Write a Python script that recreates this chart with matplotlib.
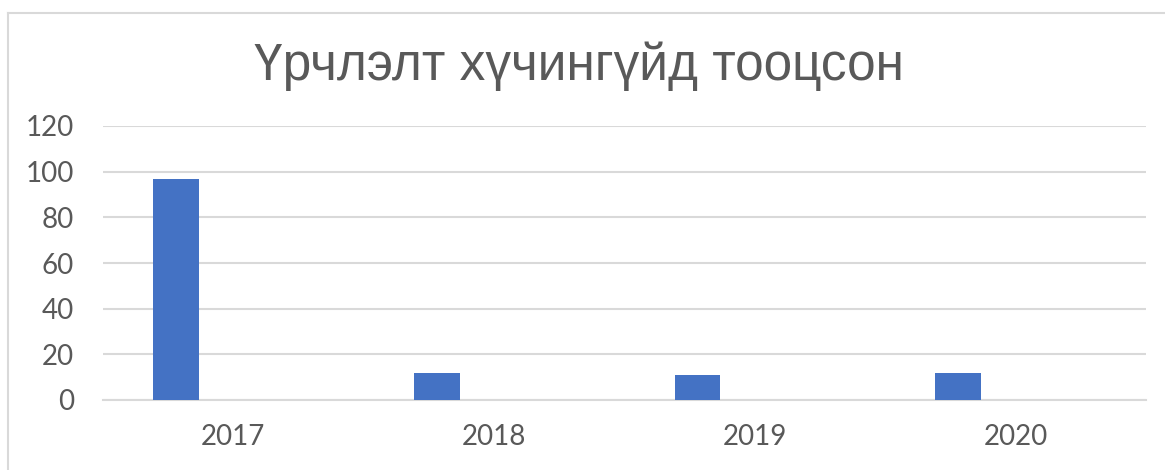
# Excel-style column chart: Үрчлэлт хүчингүйд тооцсон
import matplotlib.pyplot as plt
from matplotlib.lines import Line2D

years = ['2017', '2018', '2019', '2020']
values = [97, 12, 11, 12]
yticks = [0, 20, 40, 60, 80, 100, 120]

W, H = 1165, 470
fig = plt.figure(figsize=(W / 100, H / 100), dpi=100)
ax = fig.add_axes([103 / W, 1 - 400 / H, (1146 - 103) / W, (400 - 126) / H])

gray = '#595959'
grid = '#d9d9d9'

x = list(range(len(years)))
# bar sits left of the category centre (Excel cluster with empty series)
ax.bar([i - 0.22 for i in x], values, width=0.175, color='#4472c4', zorder=3)

ax.set_xlim(-0.5, len(years) - 0.5)
ax.set_ylim(0, 120)
ax.set_yticks(yticks)
ax.set_xticks(x)
ax.set_xticklabels(years)
ax.yaxis.grid(True, color=grid, linewidth=1.5, zorder=0)
for s in ['top', 'right', 'left']:
    ax.spines[s].set_visible(False)
ax.spines['bottom'].set_color(grid)
ax.spines['bottom'].set_linewidth(1.5)
ax.tick_params(length=0, colors=gray, labelsize=20)
ax.tick_params(axis='x', pad=17)
ax.tick_params(axis='y', pad=21)
for lab in ax.get_xticklabels() + ax.get_yticklabels():
    lab.set_fontfamily(['Lato', 'DejaVu Sans'])

fig.text(0.497, 1 - 66 / H, 'Үрчлэлт хүчингүйд тооцсон', ha='center', va='center',
         fontsize=37, color=gray, family=['Liberation Sans Narrow', 'Liberation Sans'])

# light chart border (top and left visible)
fig.add_artist(Line2D([8 / W, 1], [1 - 13 / H, 1 - 13 / H], color=grid, lw=1.5))
fig.add_artist(Line2D([8 / W, 8 / W], [0, 1 - 13 / H], color=grid, lw=1.5))

fig.savefig('out.png', dpi=100)
